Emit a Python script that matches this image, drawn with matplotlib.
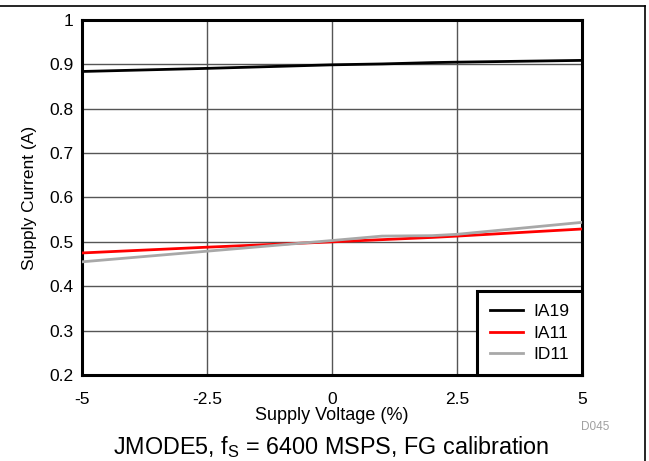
import matplotlib
matplotlib.use("Agg")
import matplotlib.pyplot as plt
from matplotlib.lines import Line2D

plt.rcParams['font.family'] = ['Liberation Sans', 'DejaVu Sans']

# supply voltage (%)
volt = [-5, -2.5, 0, 1, 2, 2.5, 5]
ia19 = [0.884, 0.891, 0.899, 0.901, 0.904, 0.905, 0.909]
ia11 = [0.475, 0.488, 0.500, 0.505, 0.510, 0.513, 0.529]
id11 = [0.455, 0.479, 0.503, 0.513, 0.514, 0.517, 0.544]

xticks = [-5, -2.5, 0, 2.5, 5]
xtick_labels = ['-5', '-2.5', '0', '2.5', '5']
yticks = [0.2, 0.3, 0.4, 0.5, 0.6, 0.7, 0.8, 0.9, 1.0]
ytick_labels = ['0.2', '0.3', '0.4', '0.5', '0.6', '0.7', '0.8', '0.9', '1']

fig = plt.figure(figsize=(6.49, 4.61), dpi=100)
ax = fig.add_axes([0.1263, 0.1866, 0.7705, 0.77])

ax.plot(volt, ia19, color='black', lw=2, label='IA19', zorder=4)
ax.plot(volt, ia11, color='#ff0000', lw=2, label='IA11', zorder=3)
ax.plot(volt, id11, color='#a8a8a8', lw=2, label='ID11', zorder=3)

ax.set_xlim(-5, 5)
ax.set_ylim(0.2, 1.0)
ax.set_xticks(xticks)
ax.set_xticklabels(xtick_labels)
ax.set_yticks(yticks)
ax.set_yticklabels(ytick_labels)
ax.tick_params(length=0, labelsize=12.5)
ax.tick_params(axis='x', pad=12)
ax.tick_params(axis='y', pad=6)
ax.grid(True, color='#555555', lw=1)
for s in ax.spines.values():
    s.set_linewidth(2.2)

ax.set_xlabel('Supply Voltage (%)', fontsize=13, labelpad=0)
ax.set_ylabel('Supply Current (A)', fontsize=12.5, labelpad=9)

leg = ax.legend(loc='lower right', fontsize=12.5, frameon=True, fancybox=False,
                borderaxespad=0, handlelength=1.9, handletextpad=0.55,
                borderpad=0.75, labelspacing=0.35)
leg.get_frame().set_edgecolor('black')
leg.get_frame().set_linewidth(2.2)
leg.get_frame().set_alpha(1)

fig.text(0.917, 0.067, 'D045', color='#a0a0a0', fontsize=8.5, ha='center')
fig.text(0.511, 0.016, r'JMODE5, f$_\mathregular{S}$ = 6400 MSPS, FG calibration',
         fontsize=16.8, ha='center')

# outer frame (top and right)
fig.add_artist(Line2D([0, 0.9945], [0.987, 0.987], color='black', lw=1.2,
                      transform=fig.transFigure))
fig.add_artist(Line2D([0.9945, 0.9945], [0, 0.987], color='black', lw=1.2,
                      transform=fig.transFigure))

fig.savefig('out.png', dpi=100)
